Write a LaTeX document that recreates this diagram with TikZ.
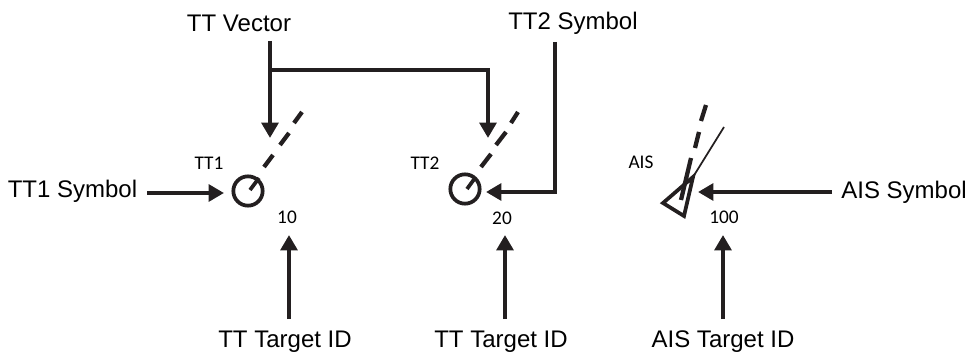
\documentclass[tikz,border=0pt]{standalone}
\usepackage{fontspec}
\setmainfont{Liberation Sans}
\newfontfamily\smallfont{Carlito}
\usepackage{tikz}
\usetikzlibrary{arrows.meta,calc}
\definecolor{linegray}{RGB}{35,31,32}

\begin{document}
\begin{tikzpicture}[
        x=0.75pt, y=-0.75pt,
        every node/.style={inner sep=0pt, text=black},
        biglabel/.style={font=\fontsize{18}{21}\selectfont},
        smalllabel/.style={font=\smallfont\fontsize{14.5}{17}\selectfont},
        arrowline/.style={draw=linegray, line width=3pt, -{Triangle[length=11.5pt, width=12.5pt]}},
        dashline/.style={draw=linegray, line width=3.2pt},
        tickline/.style={draw=linegray, line width=2.8pt},
        thinline/.style={draw=linegray, line width=1.3pt},
        ttsymbol/.style={circle, draw=linegray, line width=2.8pt, minimum size=22pt},
    ]
        \useasboundingbox (0,0) rectangle (970,356);

        % Labels
        \node[biglabel] (vector) at (239,23) {TT Vector};
        \node[biglabel] (ttsym) at (573,23) {TT2 Symbol};
        \node[biglabel] (onesym) at (72.5,191) {TT1 Symbol};
        \node[biglabel] (aissym) at (904,192) {AIS Symbol};
        \node[biglabel] (idone) at (285,342) {TT Target ID};
        \node[biglabel] (idtwo) at (501,342) {TT Target ID};
        \node[biglabel] (idais) at (723,342) {AIS Target ID};

        \node[smalllabel] (ttone) at (209,163) {TT1};
        \node[smalllabel] (tttwo) at (425,163) {TT2};
        \node[smalllabel] (ais) at (641,162) {AIS};
        \node[smalllabel] (numone) at (287,217) {10};
        \node[smalllabel] (numtwo) at (502,218) {20};
        \node[smalllabel] (numais) at (724,217) {100};

        % Symbols
        \node[ttsymbol] (circone) at (248,191) {};
        \node[ttsymbol] (circtwo) at (465,189) {};
        \draw[tickline] (circone.center) ++(2,-1) -- ++(9,-12);
        \draw[tickline] (circtwo.center) ++(2,0) -- ++(8,-11);

        \draw[dashline] (264,167) -- (273,155);
        \draw[dashline] (280,145) -- (289,133);
        \draw[dashline] (294,123) -- (302,112);
        \draw[dashline] (481,167) -- (491,154);
        \draw[dashline] (496,145) -- (506,132);
        \draw[dashline] (511,123) -- (518,112);

        \draw[dashline] (681,200) -- (691,158);
        \draw[dashline] (695,148) -- (699,132);
        \draw[dashline] (701,121) -- (706,105);
        \draw[tickline, line join=miter] (663,203) -- (684,216) -- (693,177) -- cycle;
        \draw[thinline] (693,177) -- (724,127);

        % Connectors
        \coordinate (vectop) at (270,41);
        \coordinate (vecbend) at (270,70);
        \coordinate (vecleft) at (270,138);
        \coordinate (vecturn) at (488,70);
        \coordinate (vecright) at (488,138);
        \draw[arrowline] (vectop) -- (vecleft);
        \draw[arrowline] (vecbend) -- (vecturn) -- (vecright);

        \coordinate (symtop) at (555,42);
        \coordinate (symturn) at (555,192);
        \coordinate (symtip) at (486,192);
        \draw[arrowline] (symtop) -- (symturn) -- (symtip);

        \coordinate (onefrom) at (147,193);
        \coordinate (onetip) at (224,193);
        \draw[arrowline] (onefrom) -- (onetip);

        \coordinate (aisfrom) at (832,192);
        \coordinate (aistip) at (698,192);
        \draw[arrowline] (aisfrom) -- (aistip);

        \coordinate (idonefrom) at (289,319);
        \coordinate (idonetip) at (289,235);
        \coordinate (idtwofrom) at (505,319);
        \coordinate (idtwotip) at (505,235);
        \coordinate (idaisfrom) at (723,319);
        \coordinate (idaistip) at (723,235);
        \draw[arrowline] (idonefrom) -- (idonetip);
        \draw[arrowline] (idtwofrom) -- (idtwotip);
        \draw[arrowline] (idaisfrom) -- (idaistip);
    \end{tikzpicture}
\end{document}
